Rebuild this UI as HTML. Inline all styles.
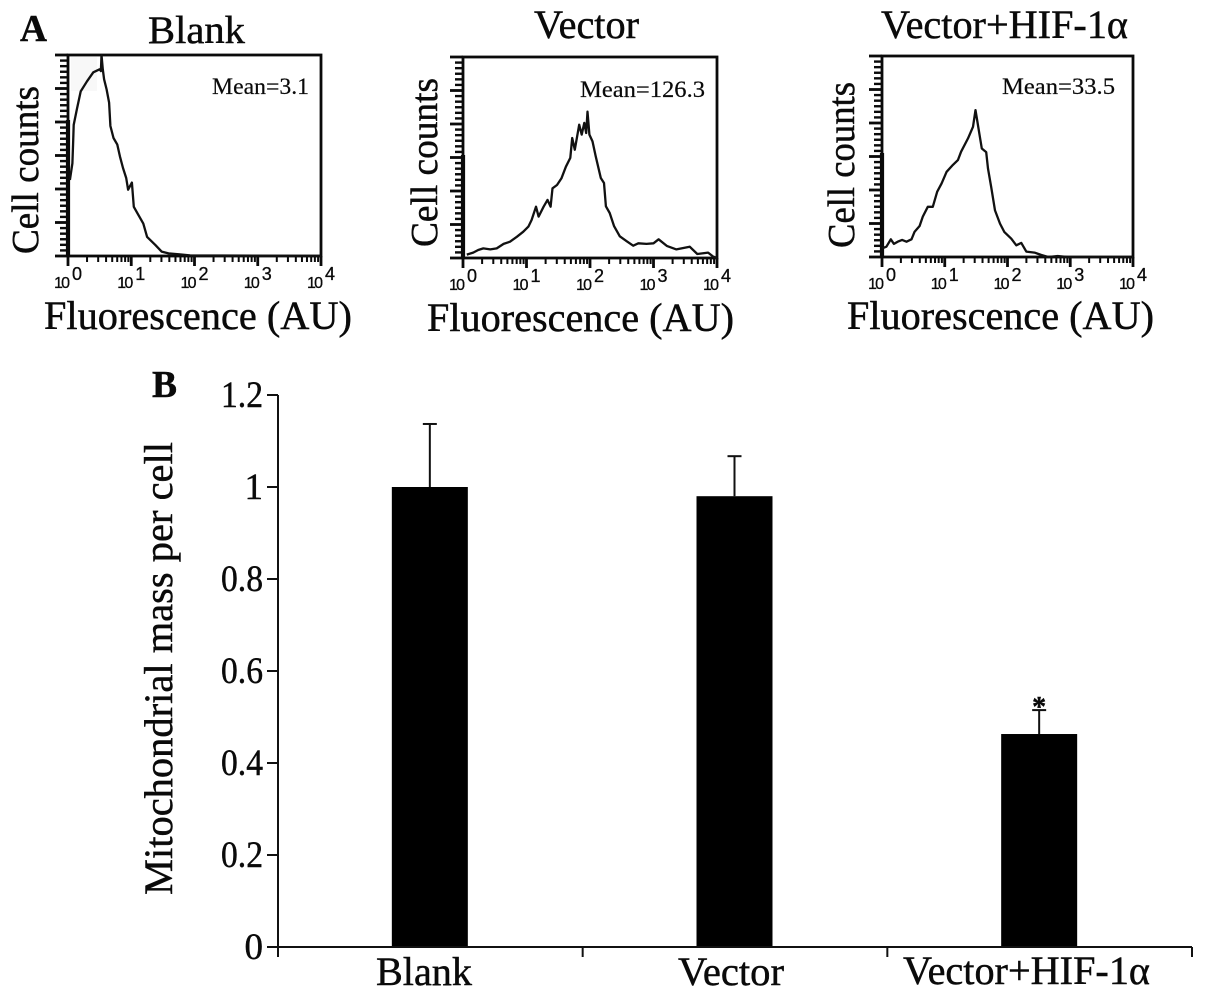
<!DOCTYPE html>
<html lang="en">
<head>
<meta charset="utf-8">
<title>Flow cytometry histograms and mitochondrial mass</title>
<style>
html,body{margin:0;padding:0;background:#fff;width:1205px;height:998px;overflow:hidden}
svg{display:block}
text{font-family:"Liberation Serif","Noto Serif CJK SC",serif;fill:#0a0a0a;stroke:#0a0a0a;stroke-width:.45px}
.sans{font-family:"Liberation Sans","DejaVu Sans",sans-serif;stroke-width:.3px}
.thin{stroke-width:.2px}
</style>
</head>
<body>
<svg id="fig" xmlns="http://www.w3.org/2000/svg" width="1205" height="998" viewBox="0 0 1205 998">
  <rect width="1205" height="998" fill="#fff"/>

  <text x="20" y="41" font-size="38" font-weight="bold" textLength="27" lengthAdjust="spacingAndGlyphs">A</text>
  <text x="152" y="397" font-size="38" font-weight="bold" textLength="25" lengthAdjust="spacingAndGlyphs">B</text>

  <text x="148" y="43" font-size="39" textLength="97" lengthAdjust="spacingAndGlyphs">Blank</text>
  <text x="534" y="38" font-size="40" textLength="105" lengthAdjust="spacingAndGlyphs">Vector</text>
  <text x="881" y="38" font-size="40" textLength="247" lengthAdjust="spacingAndGlyphs">Vector+HIF-1α</text>

  <text transform="translate(38,254) rotate(-90)" font-size="38" textLength="168" lengthAdjust="spacingAndGlyphs">Cell counts</text>
  <text transform="translate(437,247) rotate(-90)" font-size="38" textLength="169" lengthAdjust="spacingAndGlyphs">Cell counts</text>
  <text transform="translate(854,248) rotate(-90)" font-size="38" textLength="166" lengthAdjust="spacingAndGlyphs">Cell counts</text>

  <text x="44" y="329" font-size="40" textLength="308" lengthAdjust="spacingAndGlyphs">Fluorescence (AU)</text>
  <text x="427" y="331" font-size="40" textLength="307" lengthAdjust="spacingAndGlyphs">Fluorescence (AU)</text>
  <text x="847" y="329" font-size="40" textLength="307" lengthAdjust="spacingAndGlyphs">Fluorescence (AU)</text>

  <text class="thin" x="212" y="94" font-size="23" textLength="97" lengthAdjust="spacingAndGlyphs">Mean=3.1</text>
  <text class="thin" x="580" y="97" font-size="23" textLength="125" lengthAdjust="spacingAndGlyphs">Mean=126.3</text>
  <text class="thin" x="1002" y="94" font-size="23" textLength="113" lengthAdjust="spacingAndGlyphs">Mean=33.5</text>

  <text transform="translate(172,895) rotate(-90)" font-size="40" textLength="453" lengthAdjust="spacingAndGlyphs">Mitochondrial mass per cell</text>

  <g id="histograms"></g>
  <g id="bars"></g>
</svg>

<script>
// Histogram data: log10 fluorescence and cell counts (% of axis height)
const blankLogF = [0.03,0.07,0.08,0.09,0.14,0.20,0.30,0.40,0.50,0.52,0.53,0.55,0.57,0.61,0.65,0.67,0.72,0.78,0.82,0.87,0.92,0.95,1.01,1.04,1.10,1.19,1.25,1.38,1.48,1.59,1.77,1.93,4];
const blankCounts = [37.8,46.1,55.9,65.2,73.1,81.9,86.9,91.4,92.9,92,100,92.9,87.9,82.9,76.3,64.7,58.7,55.4,49.6,43.8,38.8,33,36.5,24.5,21.1,16.1,9.5,5.5,2.2,1.3,0.8,0.3,0];
const vectorLogF = [0.06,0.16,0.24,0.32,0.43,0.53,0.64,0.74,0.85,0.95,1.03,1.08,1.15,1.19,1.27,1.33,1.38,1.41,1.48,1.55,1.62,1.69,1.72,1.76,1.83,1.87,1.91,1.94,1.96,1.99,2.04,2.09,2.17,2.22,2.25,2.31,2.38,2.47,2.58,2.68,2.76,2.89,3,3.08,3.21,3.36,3.57,3.69,3.86,3.94,4];
const vectorCounts = [1.7,2.7,4,4.8,4.3,4.8,7,8.1,10.6,13.1,15.6,18.9,25.5,20.6,25.5,28.9,25.5,34.7,36.3,39.6,45.4,49.8,59.7,53.9,66.3,61.4,67.2,62.2,72.8,61.4,58,50.6,39.8,37.3,25.7,22.4,15.8,10.8,8.3,6.1,7.3,7,7.3,9.3,6,4.3,5.6,2,2.7,0.7,0];
const hifLogF = [0,0.07,0.14,0.19,0.25,0.32,0.39,0.47,0.52,0.60,0.65,0.73,0.81,0.88,0.95,1.03,1.13,1.21,1.26,1.37,1.45,1.49,1.52,1.56,1.59,1.66,1.69,1.74,1.80,1.88,1.95,2.06,2.14,2.22,2.30,2.43,2.54,2.65,2.80,2.96,4];
const hifCounts = [4.3,5.1,8.8,6.5,7.6,8.5,7.6,8.8,12.6,15.4,20.1,25,25,32.5,36.6,42.4,45.8,48.2,52.4,59,64.8,73.1,67.3,59.7,54,52.2,44,34.8,23.2,16.6,12.4,9.1,5.8,7,2.7,2.2,1,0,0.5,0,0];
const decadeExponents = [0,1,2,3,4];

// Bar chart data
const categories = ["Blank","Vector","Vector+HIF-1α"];
const meanValues = [1.0,0.98,0.463];
const errorValues = [0.137,0.087,0.052];
const significance = ["","","*"];
const yTickValues = [0,0.2,0.4,0.6,0.8,1,1.2];
const yTickLabels = ["0","0.2","0.4","0.6","0.8","1","1.2"];

const NS = "http://www.w3.org/2000/svg";
function make(parent, tag, attrs, txt){
  const el = document.createElementNS(NS, tag);
  for (const k in attrs) el.setAttribute(k, attrs[k]);
  if (txt !== undefined) el.textContent = txt;
  parent.appendChild(el);
  return el;
}

function drawHistogram(root, name, box, logF, counts){
  const g = make(root, "g", {});
  
  
  const sx = v => box.x0 + (v / 4) * (box.x1 - box.x0);
  const sy = v => box.y1 - (v / 100) * (box.y1 - box.y0);

  if (box.smear) {
    const smear = make(g, "rect", {x: box.x0 + 3, y: box.y0 + 2, width: 26, height: 34, fill: "#f8f8f8"});
    
    
  }

  const frame = make(g, "rect", {x: box.x0, y: box.y0, width: box.x1 - box.x0, height: box.y1 - box.y0, fill: "none", stroke: "#0a0a0a", "stroke-width": 2.8});
  
  

  const thick = make(g, "line", {x1: box.x0, x2: box.x0, y1: box.thickFrom, y2: box.y1, stroke: "#0a0a0a", "stroke-width": 4.2});
  
  

  // y ticks: 6 major segments, 6 subdivisions each
  for (let i = 0; i <= 36; i++) {
    const major = i % 6 === 0;
    const y = box.y1 - (i / 36) * (box.y1 - box.y0);
    const t = make(g, "line", {x1: box.x0 - (major ? 13 : 8), x2: box.x0, y1: y, y2: y, stroke: "#0a0a0a", "stroke-width": major ? 2.8 : 2.4});
    
    
  }

  // x ticks: logarithmic decades with minors
  decadeExponents.forEach(function(e){
    const x = sx(e);
    const t = make(g, "line", {x1: x, x2: x, y1: box.y1, y2: box.y1 + 10, stroke: "#0a0a0a", "stroke-width": 2.8});
    
    
    if (e < 4) {
      for (let m = 2; m < 10; m++) {
        const xm = sx(e + Math.log10(m));
        const tm = make(g, "line", {x1: xm, x2: xm, y1: box.y1, y2: box.y1 + 6, stroke: "#0a0a0a", "stroke-width": 2});
        
        
      }
    }
    const base = make(g, "text", {x: x - 14, y: box.y1 + 32, "font-size": 16, class: "sans", textLength: 16, lengthAdjust: "spacing"}, "10");
    
    
    const sup = make(g, "text", {x: x + 4, y: box.y1 + 24, "font-size": 18, class: "sans"}, String(e));
    
    
  });

  const d = logF.map((v, i) => (i ? "L" : "M") + sx(v).toFixed(1) + " " + sy(counts[i]).toFixed(1)).join(" ");
  const curve = make(g, "path", {d: d, fill: "none", stroke: "#111", "stroke-width": 2.3, "stroke-linejoin": "round"});
  
  
}

const histRoot = document.getElementById("histograms");
drawHistogram(histRoot, "blank", {x0: 68, x1: 321, y0: 55, y1: 256, thickFrom: 120, smear: true}, blankLogF, blankCounts);
drawHistogram(histRoot, "vector", {x0: 463, x1: 717, y0: 57, y1: 258, thickFrom: 155}, vectorLogF, vectorCounts);
drawHistogram(histRoot, "vector-hif", {x0: 882, x1: 1133, y0: 56, y1: 257, thickFrom: 153}, hifLogF, hifCounts);

// Bar chart axes
const plot = {left: 278, right: 1192, bottom: 947, top: 395, yMax: 1.2, barWidth: 76};
const yScale = v => plot.bottom - (v / plot.yMax) * (plot.bottom - plot.top);
const band = (plot.right - plot.left) / categories.length;
const xCenter = i => plot.left + band * (i + 0.5) - 0.5;

const barRoot = document.getElementById("bars");

categories.forEach(function(cat, i){
  const cx = xCenter(i);
  const bar = make(barRoot, "rect", {x: cx - plot.barWidth / 2, y: yScale(meanValues[i]), width: plot.barWidth, height: plot.bottom - yScale(meanValues[i]), fill: "#000"});
  
  

  const topY = yScale(meanValues[i] + errorValues[i]);
  const stem = make(barRoot, "line", {x1: cx, x2: cx, y1: yScale(meanValues[i]), y2: topY, stroke: "#111", "stroke-width": 2});
  
  
  const cap = make(barRoot, "line", {x1: cx - 7, x2: cx + 7, y1: topY, y2: topY, stroke: "#111", "stroke-width": 2});
  
  

  if (significance[i]) {
    const star = make(barRoot, "text", {x: cx, y: topY + 6, "font-size": 28, "font-weight": "bold", "text-anchor": "middle"}, significance[i]);
    
    
  }
});

const yAxis = make(barRoot, "line", {x1: plot.left, x2: plot.left, y1: plot.top, y2: plot.bottom + 10, stroke: "#111", "stroke-width": 2});


const xAxis = make(barRoot, "line", {x1: plot.left - 11, x2: plot.right, y1: plot.bottom, y2: plot.bottom, stroke: "#111", "stroke-width": 2});



yTickValues.forEach(function(v, i){
  const y = yScale(v);
  const t = make(barRoot, "line", {x1: plot.left - 11, x2: plot.left, y1: y, y2: y, stroke: "#111", "stroke-width": 2});
  
  
  const attrs = {x: 263, y: y + 12, "font-size": 37, "text-anchor": "end"};
  if (yTickLabels[i].length > 1) {
    attrs.textLength = 42;
    attrs.lengthAdjust = "spacingAndGlyphs";
  }
  const lab = make(barRoot, "text", attrs, yTickLabels[i]);
  
  
});

for (let i = 0; i <= categories.length; i++) {
  const x = plot.left + band * i;
  const t = make(barRoot, "line", {x1: x, x2: x, y1: plot.bottom, y2: plot.bottom + 10, stroke: "#111", "stroke-width": 2});
  
  
}

const catLabelGeom = [{x: 376, w: 96, y: 985}, {x: 678, w: 106, y: 985}, {x: 903, w: 247, y: 984}];
categories.forEach(function(cat, i){
  const lab = make(barRoot, "text", {x: catLabelGeom[i].x, y: catLabelGeom[i].y, "font-size": 40, textLength: catLabelGeom[i].w, lengthAdjust: "spacingAndGlyphs"}, cat);
  
  
});
</script>
</body>
</html>
